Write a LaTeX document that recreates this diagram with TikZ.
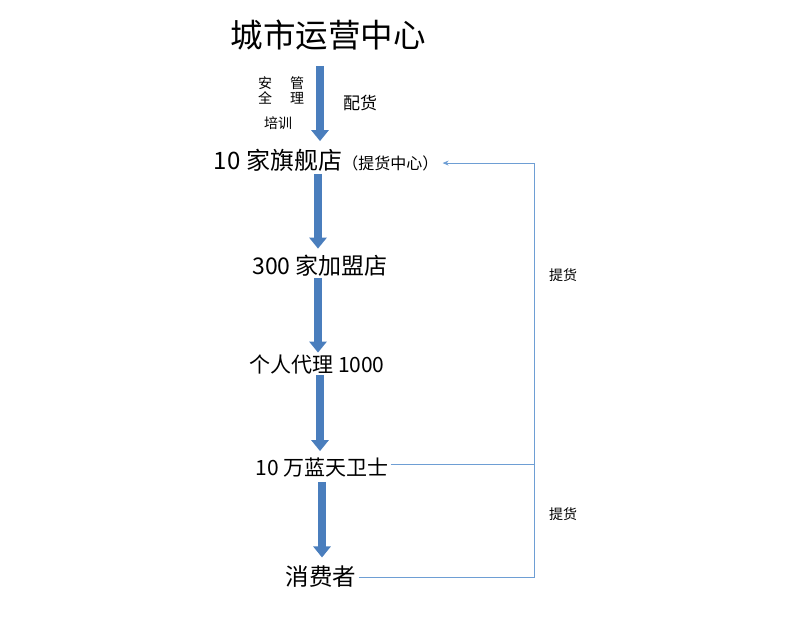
\documentclass[tikz,border=0pt]{standalone}
\usepackage{fontspec}
\setmainfont{Noto Sans CJK SC}
\usepackage{tikz}
\usetikzlibrary{arrows.meta,positioning}
\definecolor{flowblue}{RGB}{74,126,189}
\definecolor{linkblue}{RGB}{110,158,212}

\begin{document}
\begin{tikzpicture}[x=1pt,y=-1pt,>={Stealth[length=6pt,width=5pt]},
stage/.style={inner sep=0pt},
note/.style={inner sep=0pt,font=\fontsize{14}{15}\selectfont,align=center},
flow/.style={draw=flowblue,line width=8pt,-{Triangle[length=11pt,width=17pt]}},
link/.style={draw=linkblue,line width=0.8pt}]
\useasboundingbox (0,0) rectangle (787,629);
\node[stage,font=\fontsize{32.5}{35}\selectfont] (hq) at (328,35) {城市运营中心};
\node[note] (safe) at (265,90) {安\\全};
\node[note] (mgmt) at (297,90) {管\\理};
\node[note] (train) at (278,123) {培训};
\node[note,font=\fontsize{17}{18}\selectfont] (supply) at (360,103) {配货};
\node[stage,font=\fontsize{24}{26}\selectfont] (flag) at (278,160) {10 家旗舰店};
\node[inner sep=0pt,anchor=base west,font=\fontsize{16}{17}\selectfont] (hub) at (flag.base east) {（提货中心）};
\node[stage,font=\fontsize{23}{25}\selectfont] (league) at (320,266) {300 家加盟店};
\node[stage,font=\fontsize{21}{23}\selectfont] (agent) at (317,365) {个人代理 1000};
\node[stage,font=\fontsize{21}{23}\selectfont] (guard) at (322,468) {10 万蓝天卫士};
\node[stage,font=\fontsize{23.5}{25}\selectfont] (buyer) at (321,577) {消费者};
\node[note] (pick1) at (563,275) {提货};
\node[note] (pick2) at (563,514) {提货};
\coordinate (rail) at (534,0);
% main chain
\draw[flow,shorten <=15.5pt,shorten >=7.5pt] (hq.south -| 320,0) -- (flag.north -| 320,0);
\draw[flow,shorten <=2.5pt,shorten >=6.5pt] (flag.south -| 318,0) -- (league.north -| 318,0);
\draw[flow,shorten <=1.5pt,shorten >=2.5pt] (league.south -| 318,0) -- (agent.north -| 318,0);
\draw[flow,shorten <=0.5pt,shorten >=7pt] (agent.south -| 320,0) -- (guard.north -| 320,0);
\draw[flow,shorten <=4pt,shorten >=8.5pt] (guard.south -| 322,0) -- (buyer.north -| 322,0);
% pick-up lines
\draw[link,->] ([xshift=3pt]buyer.east) -- (buyer.east -| rail) |- ([xshift=4pt]hub.east);
\draw[link] ([xshift=2pt,yshift=4pt]guard.east) -- ([yshift=4pt]guard.east -| rail);
\end{tikzpicture}
\end{document}
